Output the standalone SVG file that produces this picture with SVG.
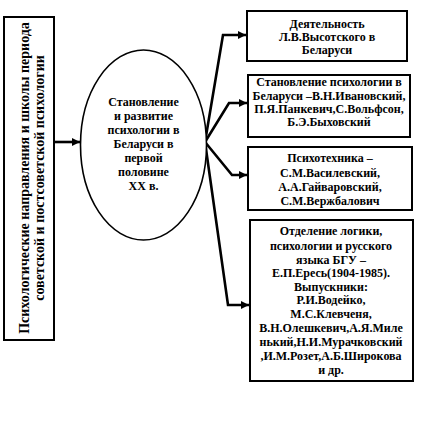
<svg xmlns="http://www.w3.org/2000/svg" width="444" height="421" viewBox="0 0 444 421">
<style>
.box{fill:#fff;stroke:#000;stroke-width:2}
.ell{fill:#fff;stroke:#000;stroke-width:1.6}
.t{font-family:"Liberation Serif","Times New Roman",serif;font-weight:bold;font-size:12px;fill:#000;text-anchor:middle}
.tl{font-family:"Liberation Serif","Times New Roman",serif;font-weight:bold;font-size:14px;fill:#000;text-anchor:middle}
.c{fill:none;stroke:#000;stroke-width:2.6;stroke-linejoin:miter}
</style>
<defs>
<marker id="ah" markerUnits="userSpaceOnUse" markerWidth="9" markerHeight="8" refX="8" refY="4" orient="auto">
<path d="M0,0 L8,4 L0,8 z" fill="#000"/>
</marker>
</defs>
<rect width="444" height="421" fill="#fff"/>
<g id="connectors">
<path class="c" d="M54,142 L80,142" marker-end="url(#ah)"/>
<path class="c" d="M205,142 L223,35 L246,35" marker-end="url(#ah)"/>
<path class="c" d="M205,142 L229,103 L247,103" marker-end="url(#ah)"/>
<path class="c" d="M205,142 L232,175 L247,175" marker-end="url(#ah)"/>
<path class="c" d="M205,142 L228,305 L249,305" marker-end="url(#ah)"/>
</g>
<g id="root">
<rect class="box" x="4" y="17" width="50" height="323"/>
<text class="tl" transform="translate(28.5,178) rotate(-90)">Психологические направления и школы периода</text>
<text class="tl" transform="translate(43.5,178) rotate(-90)">советской и постсоветской психологии</text>
</g>
<g id="center">
<ellipse class="ell" cx="143.5" cy="145" rx="63" ry="95"/>
<text class="t" x="143.5" y="106">Становление</text>
<text class="t" x="143.5" y="120">и развитие</text>
<text class="t" x="143.5" y="134">психологии в</text>
<text class="t" x="143.5" y="148">Беларуси в</text>
<text class="t" x="143.5" y="162">первой</text>
<text class="t" x="143.5" y="176">половине</text>
<text class="t" x="143.5" y="190">XX в.</text>
</g>
<g id="box1">
<rect class="box" x="247" y="11" width="160" height="50"/>
<text class="t" x="327" y="28">Деятельность</text>
<text class="t" x="327" y="41">Л.В.Высотского в</text>
<text class="t" x="327" y="54">Беларуси</text>
</g>
<g id="box2">
<rect class="box" x="248" y="75" width="162" height="62"/>
<text class="t" x="329" y="86">Становление психологии в</text>
<text class="t" x="329" y="100">Беларуси –В.Н.Ивановский,</text>
<text class="t" x="329" y="113">П.Я.Панкевич,С.Вольфсон,</text>
<text class="t" x="329" y="126">Б.Э.Быховский</text>
</g>
<g id="box3">
<rect class="box" x="248" y="147" width="164" height="63"/>
<text class="t" x="330" y="162">Психотехника –</text>
<text class="t" x="330" y="177">С.М.Василевский,</text>
<text class="t" x="330" y="191">А.А.Гайваровский,</text>
<text class="t" x="330" y="205">С.М.Вержбалович</text>
</g>
<g id="box4">
<rect class="box" x="250" y="220" width="163" height="161"/>
<text class="t" x="331" y="235">Отделение логики,</text>
<text class="t" x="331" y="250">психологии и русского</text>
<text class="t" x="331" y="264">языка БГУ –</text>
<text class="t" x="331" y="277">Е.П.Ересь(1904-1985).</text>
<text class="t" x="331" y="291">Выпускники:</text>
<text class="t" x="331" y="304">Р.И.Водейко,</text>
<text class="t" x="331" y="318">М.С.Клевченя,</text>
<text class="t" x="331" y="332">В.Н.Олешкевич,А.Я.Миле</text>
<text class="t" x="331" y="346">нький,Н.И.Мурачковский</text>
<text class="t" x="331" y="360">,И.М.Розет,А.Б.Широкова</text>
<text class="t" x="331" y="374">и др.</text>
</g>
</svg>
